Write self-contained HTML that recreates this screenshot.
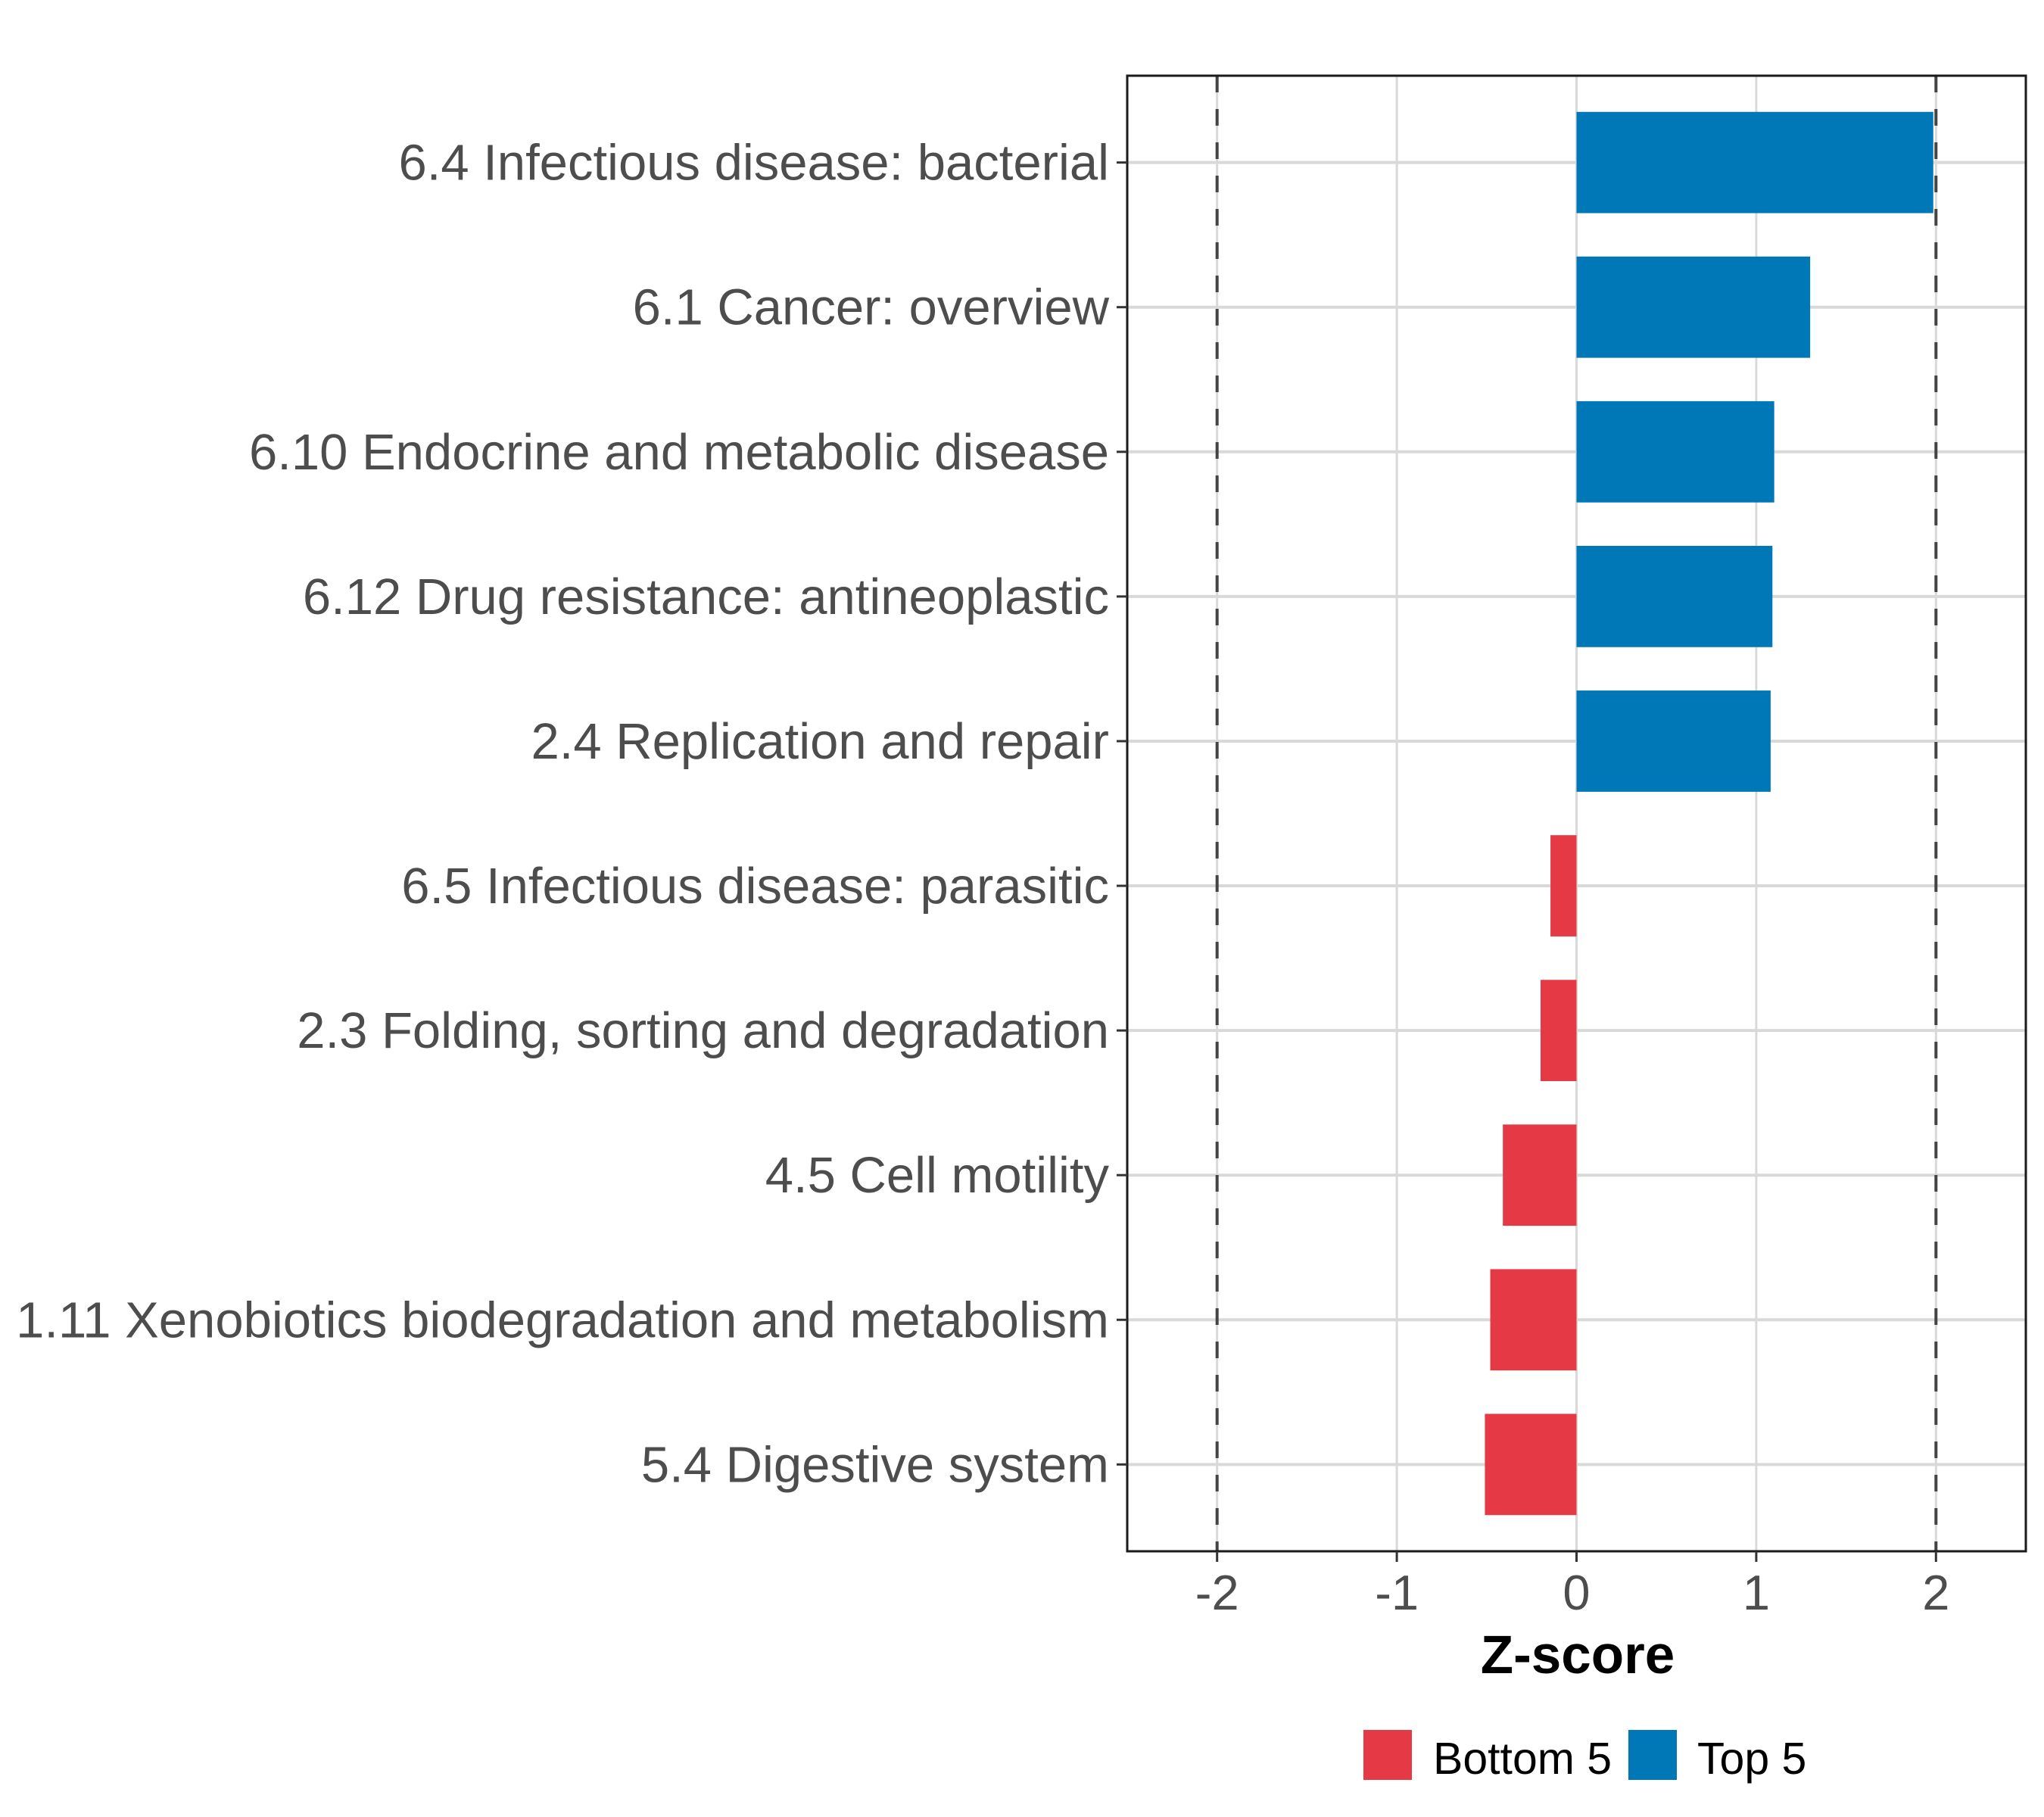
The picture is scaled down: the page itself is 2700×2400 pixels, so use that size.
<!DOCTYPE html>
<html><head><meta charset="utf-8"><style>
html,body{margin:0;padding:0;background:#fff;}
svg{display:block;font-family:"Liberation Sans",sans-serif;}
</style></head><body>
<svg id="chart" width="2700" height="2400" viewBox="0 0 2700 2400" xmlns="http://www.w3.org/2000/svg">
<rect x="0" y="0" width="2700" height="2400" fill="#fff"/>
<g id="grid"></g>
<g id="bars"></g>
<g id="refs"></g>
<rect x="1489" y="100" width="1187" height="1949" fill="none" stroke="#1a1a1a" stroke-width="3"/>
<g id="yaxis"></g>
<g id="xaxis"></g>
<text x="2084" y="2210" text-anchor="middle" font-size="71" font-weight="bold" fill="#000">Z-score</text>
<g>
  <rect x="1801" y="2285" width="64" height="66" fill="#E63946"/>
  <text x="1893" y="2343" font-size="59" fill="#000">Bottom 5</text>
  <rect x="2151" y="2285" width="64" height="66" fill="#0077B6"/>
  <text x="2242" y="2343" font-size="59" fill="#000">Top 5</text>
</g>
</svg>
<script>
const categories = ["6.4 Infectious disease: bacterial","6.1 Cancer: overview","6.10 Endocrine and metabolic disease","6.12 Drug resistance: antineoplastic","2.4 Replication and repair","6.5 Infectious disease: parasitic","2.3 Folding, sorting and degradation","4.5 Cell motility","1.11 Xenobiotics biodegradation and metabolism","5.4 Digestive system"];
const values = [1.985, 1.30, 1.10, 1.09, 1.08, -0.145, -0.20, -0.41, -0.48, -0.51];
const groups = ["Top 5","Top 5","Top 5","Top 5","Top 5","Bottom 5","Bottom 5","Bottom 5","Bottom 5","Bottom 5"];
const xTicks = [-2, -1, 0, 1, 2];
const xTickLabels = ["-2","-1","0","1","2"];
const refLines = [-2, 2];

const NS = "http://www.w3.org/2000/svg";
const PL = 1489, PR = 2676, PT = 100, PB = 2049;
const XMIN = -2.5, XMAX = 2.5;
function xs(v){ return PL + (v - XMIN) / (XMAX - XMIN) * (PR - PL); }
const step = (PB - PT) / (categories.length - 1 + 1.2);
function ys(i){ return PT + 0.6 * step + i * step; }
const colors = {"Top 5":"#0077B6","Bottom 5":"#E63946"};
function mk(tag, attrs, parent){ const e = document.createElementNS(NS, tag); for (const k in attrs) e.setAttribute(k, attrs[k]); parent.appendChild(e); return e; }
const grid = document.getElementById('grid'), bars = document.getElementById('bars'), refs = document.getElementById('refs'), ya = document.getElementById('yaxis'), xa = document.getElementById('xaxis');

xTicks.forEach((t, i) => {
  const g = mk('line', {x1: xs(t), x2: xs(t), y1: PT, y2: PB, stroke: '#d9d9d9', 'stroke-width': 3}, grid);
  
  
  const tk = mk('line', {x1: xs(t), x2: xs(t), y1: PB, y2: PB + 14, stroke: '#333', 'stroke-width': 3}, xa);
  
  
  const tl = mk('text', {x: xs(t), y: 2126, 'text-anchor': 'middle', 'font-size': 65, fill: '#4d4d4d'}, xa);
  tl.textContent = xTickLabels[i];
  
  
});

categories.forEach((c, i) => {
  const y = ys(i);
  const g = mk('line', {x1: PL, x2: PR, y1: y, y2: y, stroke: '#d9d9d9', 'stroke-width': 4}, grid);
  
  
  const v = values[i];
  const h = step * 0.7;
  const b = mk('rect', {x: Math.min(xs(0), xs(v)), y: y - h / 2, width: Math.abs(xs(v) - xs(0)), height: h, fill: colors[groups[i]]}, bars);
  
  
  const tk = mk('line', {x1: PL - 14, x2: PL, y1: y, y2: y, stroke: '#333', 'stroke-width': 3}, ya);
  
  
  const tl = mk('text', {x: PL - 24, y: y + 23, 'text-anchor': 'end', 'font-size': 67, fill: '#4d4d4d'}, ya);
  tl.textContent = c;
  
  
});

refLines.forEach(r => {
  const l = mk('line', {x1: xs(r), x2: xs(r), y1: PT, y2: PB, stroke: '#444', 'stroke-width': 4, 'stroke-dasharray': '22,22'}, refs);
  
  
});
</script>
</body></html>
